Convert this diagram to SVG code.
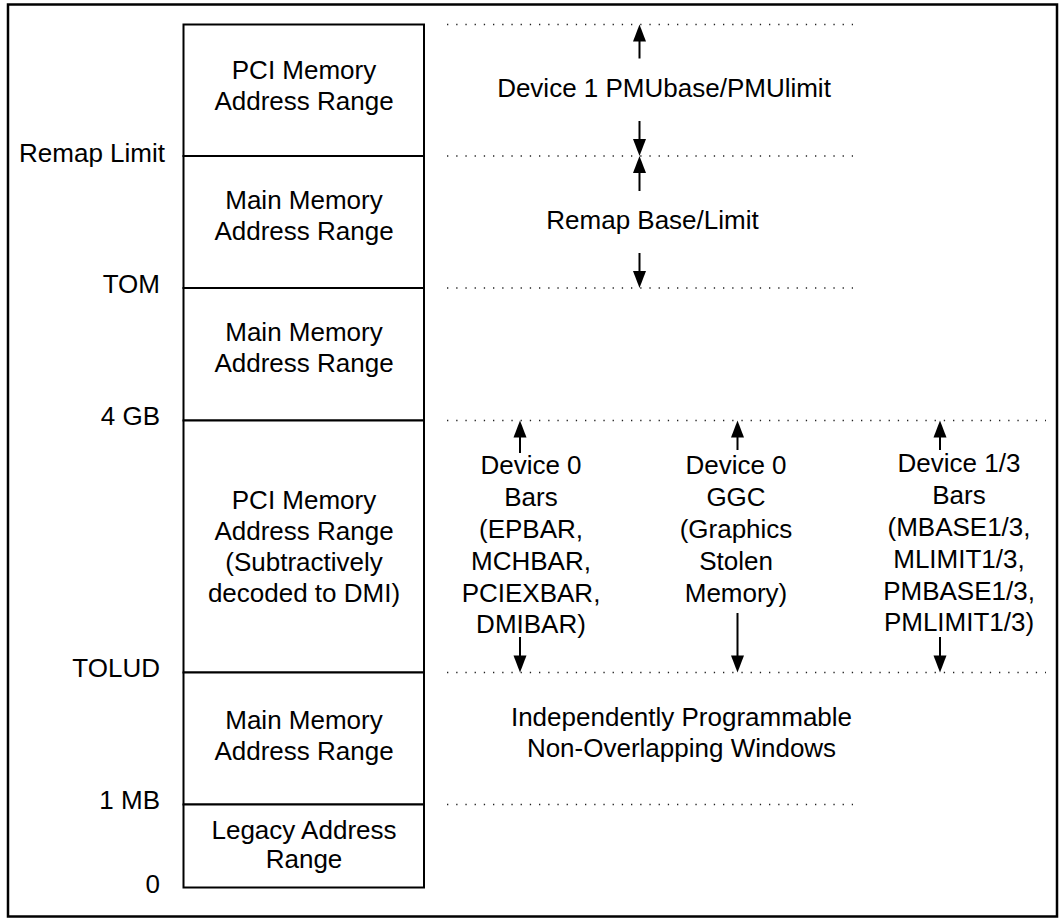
<svg xmlns="http://www.w3.org/2000/svg" width="1060" height="919" viewBox="0 0 1060 919">
<style>
text{font-family:"Liberation Sans",Arial,sans-serif;font-size:26px;fill:#000}
.c{text-anchor:middle}
.r{text-anchor:end}
.blk{fill:#fff;stroke:#000;stroke-width:2}
.dot{stroke:#222;stroke-width:1.3;stroke-dasharray:1.3 7.9;fill:none}
.shaft{stroke:#000;stroke-width:2;fill:none}
.head{fill:#000;stroke:none}
</style>
<defs>
<path id="up" class="head" d="M0,0 L-6.5,17 L6.5,17 z"/>
<path id="dn" class="head" d="M0,0 L-6.5,-17 L6.5,-17 z"/>
</defs>
<rect x="8" y="4.5" width="1049" height="912" fill="#fff" stroke="#000" stroke-width="2.5"/>

<g id="blk-pci-top">
<rect class="blk" x="183.5" y="24.5" width="240.5" height="131.5"/>
<text class="c" x="304" y="79">PCI Memory</text>
<text class="c" x="304" y="110">Address Range</text>
</g>
<g id="blk-main-remap">
<rect class="blk" x="183.5" y="156" width="240.5" height="132"/>
<text class="c" x="304" y="209">Main Memory</text>
<text class="c" x="304" y="240">Address Range</text>
</g>
<g id="blk-main-high">
<rect class="blk" x="183.5" y="288" width="240.5" height="132.5"/>
<text class="c" x="304" y="341">Main Memory</text>
<text class="c" x="304" y="372">Address Range</text>
</g>
<g id="blk-pci-low">
<rect class="blk" x="183.5" y="420.5" width="240.5" height="252"/>
<text class="c" x="304" y="509">PCI Memory</text>
<text class="c" x="304" y="540">Address Range</text>
<text class="c" x="304" y="571">(Subtractively</text>
<text class="c" x="304" y="602">decoded to DMI)</text>
</g>
<g id="blk-main-low">
<rect class="blk" x="183.5" y="672.5" width="240.5" height="132"/>
<text class="c" x="304" y="729">Main Memory</text>
<text class="c" x="304" y="760">Address Range</text>
</g>
<g id="blk-legacy">
<rect class="blk" x="183.5" y="804.5" width="240.5" height="83"/>
<text class="c" x="304" y="839">Legacy Address</text>
<text class="c" x="304" y="868">Range</text>
</g>

<g id="addr-labels">
<text class="r" x="165" y="162">Remap Limit</text>
<text class="r" x="160" y="293">TOM</text>
<text class="r" x="160" y="425">4 GB</text>
<text class="r" x="160" y="677">TOLUD</text>
<text class="r" x="160" y="809">1 MB</text>
<text class="r" x="160" y="893">0</text>
</g>

<g id="guides">
<line class="dot" x1="447" y1="24.5" x2="853" y2="24.5"/>
<line class="dot" x1="447" y1="156" x2="853" y2="156"/>
<line class="dot" x1="447" y1="288" x2="853" y2="288"/>
<line class="dot" x1="447" y1="420.5" x2="1046" y2="420.5"/>
<line class="dot" x1="447" y1="672.5" x2="1046" y2="672.5"/>
<line class="dot" x1="447" y1="804.5" x2="853" y2="804.5"/>
</g>

<g id="connectors">
<line class="shaft" x1="639.5" y1="58.5" x2="639.5" y2="38"/>
<use href="#up" x="639.5" y="24.5"/>
<line class="shaft" x1="639.5" y1="121" x2="639.5" y2="142"/>
<use href="#dn" x="639.5" y="156"/>
<line class="shaft" x1="639.5" y1="191" x2="639.5" y2="170"/>
<use href="#up" x="639.5" y="156"/>
<line class="shaft" x1="639.5" y1="253" x2="639.5" y2="274"/>
<use href="#dn" x="639.5" y="288"/>
<line class="shaft" x1="520" y1="453" x2="520" y2="434"/>
<use href="#up" x="520" y="420.5"/>
<line class="shaft" x1="520" y1="637" x2="520" y2="659"/>
<use href="#dn" x="520" y="672.5"/>
<line class="shaft" x1="737.5" y1="450" x2="737.5" y2="434"/>
<use href="#up" x="737.5" y="420.5"/>
<line class="shaft" x1="737.5" y1="613" x2="737.5" y2="659"/>
<use href="#dn" x="737.5" y="672.5"/>
<line class="shaft" x1="940" y1="450" x2="940" y2="434"/>
<use href="#up" x="940" y="420.5"/>
<line class="shaft" x1="940" y1="637" x2="940" y2="659"/>
<use href="#dn" x="940" y="672.5"/>
</g>

<g id="lbl-pmu">
<text class="c" x="664" y="97">Device 1 PMUbase/PMUlimit</text>
</g>
<g id="lbl-remap">
<text class="c" x="652.5" y="229">Remap Base/Limit</text>
</g>
<g id="lbl-dev0-bars">
<text class="c" x="531" y="474">Device 0</text>
<text class="c" x="531" y="506">Bars</text>
<text class="c" x="531" y="538">(EPBAR,</text>
<text class="c" x="531" y="570">MCHBAR,</text>
<text class="c" x="531" y="602">PCIEXBAR,</text>
<text class="c" x="531" y="633">DMIBAR)</text>
</g>
<g id="lbl-dev0-ggc">
<text class="c" x="736" y="474">Device 0</text>
<text class="c" x="736" y="506">GGC</text>
<text class="c" x="736" y="538">(Graphics</text>
<text class="c" x="736" y="570">Stolen</text>
<text class="c" x="736" y="602">Memory)</text>
</g>
<g id="lbl-dev13-bars">
<text class="c" x="959" y="472">Device 1/3</text>
<text class="c" x="959" y="504">Bars</text>
<text class="c" x="959" y="536">(MBASE1/3,</text>
<text class="c" x="959" y="568">MLIMIT1/3,</text>
<text class="c" x="959" y="600">PMBASE1/3,</text>
<text class="c" x="959" y="631">PMLIMIT1/3)</text>
</g>
<g id="lbl-windows">
<text class="c" x="681.5" y="726">Independently Programmable</text>
<text class="c" x="681.5" y="757">Non-Overlapping Windows</text>
</g>
</svg>
